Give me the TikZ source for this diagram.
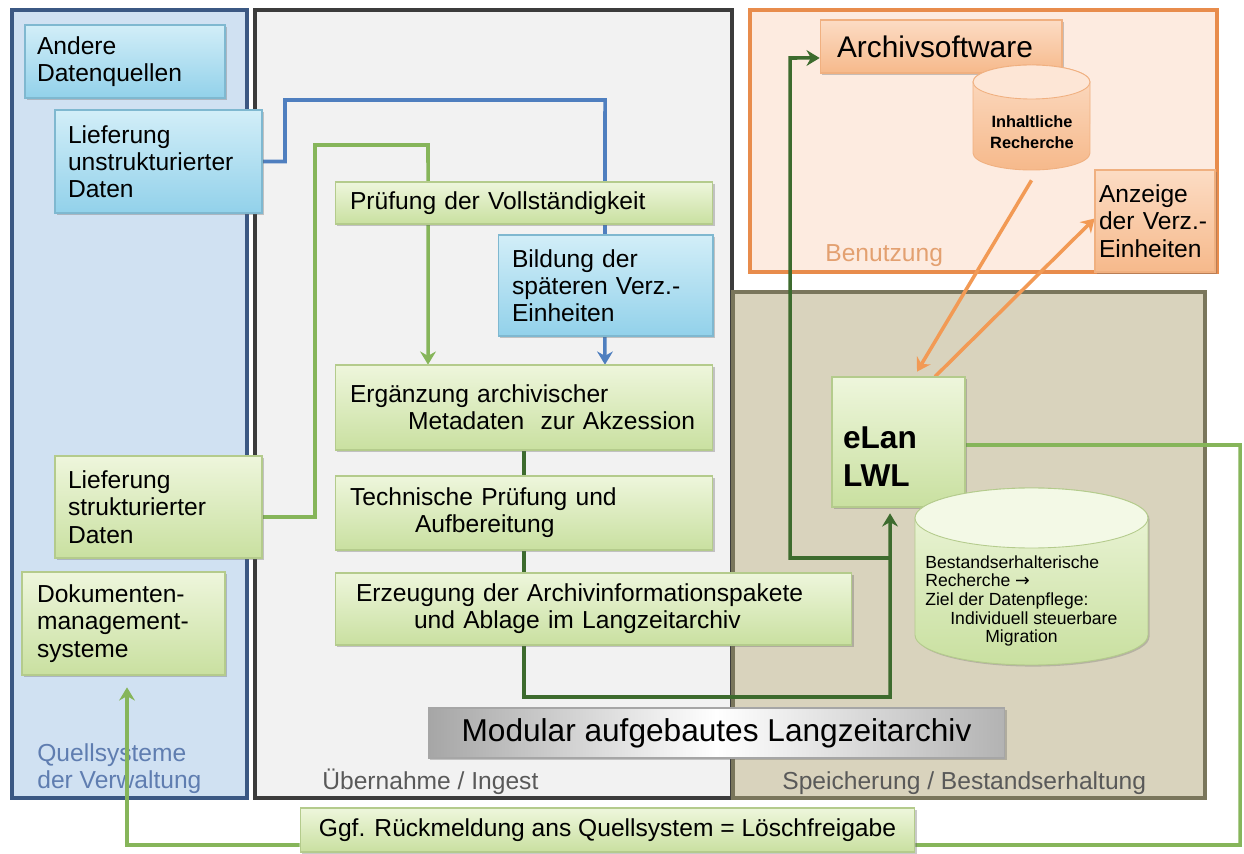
\documentclass[tikz,border=0pt]{standalone}
\usepackage{fontspec}
\setmainfont{Liberation Sans}
\newfontfamily\dejavu{DejaVu Sans}
\usetikzlibrary{arrows.meta,shadows}
\definecolor{qfill}{HTML}{D0E1F2}
\definecolor{qdraw}{HTML}{3B5883}
\definecolor{ifill}{HTML}{F2F2F2}
\definecolor{idraw}{HTML}{3C3C3C}
\definecolor{bfill}{HTML}{FDEBE0}
\definecolor{bdraw}{HTML}{E88C4C}
\definecolor{sfill}{HTML}{D9D3BD}
\definecolor{sdraw}{HTML}{7A765C}
\definecolor{gtop}{HTML}{EEF6DC}
\definecolor{gbot}{HTML}{C9E0A0}
\definecolor{gborder}{HTML}{B4CB8C}
\definecolor{btop}{HTML}{D2EEF8}
\definecolor{bbot}{HTML}{92D1EA}
\definecolor{bborder}{HTML}{7FB8D0}
\definecolor{otop}{HTML}{FCDCC4}
\definecolor{obot}{HTML}{F6B98B}
\definecolor{oborder}{HTML}{F0B080}
\definecolor{lblue}{HTML}{4F7FBF}
\definecolor{lgreen}{HTML}{86B55A}
\definecolor{dgreen}{HTML}{3D6B2E}
\definecolor{lorange}{HTML}{F29A55}
\definecolor{qlab}{HTML}{5F7DB0}
\definecolor{blab}{HTML}{E3A070}
\begin{document}
\begin{tikzpicture}[x=0.02cm,y=-0.02cm,
  font=\fontsize{14}{15.5}\selectfont,
  panel/.style={line width=1.8pt},
  boxbase/.style={line width=0.6pt, align=left, inner ysep=2pt,
    drop shadow={shadow xshift=0.9pt, shadow yshift=-0.9pt, opacity=0.35, fill=black!60}},
  gbox/.style={boxbase, draw=gborder, top color=gtop, bottom color=gbot},
  bbox/.style={boxbase, draw=bborder, top color=btop, bottom color=bbot},
  obox/.style={boxbase, draw=oborder, top color=otop, bottom color=obot},
  conn/.style={line width=2pt},
  tip/.style={-{Stealth[length=7.5pt,width=9pt,inset=2.5pt]}},
  plabel/.style={text=black!65, inner sep=0pt}
]
\fill[white] (0,0) rectangle (1244,854);
\useasboundingbox (0,0) rectangle (1244,854);

% panels
\draw[panel, draw=qdraw, fill=qfill] (12,10) rectangle (247,798);
\draw[panel, draw=idraw, fill=ifill] (255,10) rectangle (732,798);
\draw[panel, draw=bdraw, fill=bfill] (750,10) rectangle (1217,272);
\draw[panel, draw=sdraw, fill=sfill] (733,292) rectangle (1205,798);

% panel labels
\node[text=qlab, inner sep=0pt, align=left, anchor=west] (qlabel) at (37,769) {Quellsysteme\\der Verwaltung};
\node[plabel, anchor=base west] (ilabel) at (322,789) {Übernahme / Ingest};
\node[plabel, anchor=base west] (slabel) at (782,789) {Speicherung / Bestandserhaltung};
\node[text=blab, inner sep=0pt, anchor=base west] (blabel) at (825,262) {Benutzung};

% invisible anchors
\node[minimum width=2.34cm, minimum height=2.1cm, inner sep=0pt] (inhalt) at (1031.5,117.5) {};
\coordinate (j1) at (890,558);
\path
  node[minimum width=4.14cm, minimum height=2.06cm] (lunstr) at (158.5,161.5) {}
  node[minimum width=7.56cm, minimum height=1.7cm] (ergaenz) at (524,407.5) {}
  node[minimum width=4.14cm, minimum height=2.04cm] (lstr) at (158.5,507) {}
  node[minimum width=2.66cm, minimum height=2.6cm] (elan) at (898.5,442) {}
  node[minimum width=4.84cm, minimum height=1.06cm] (archsw) at (941,46.5) {}
  node[minimum width=2.4cm, minimum height=2.04cm] (anzeige) at (1155,221) {}
  node[minimum width=12.3cm, minimum height=0.88cm] (ggf) at (607.5,830) {}
  node[minimum width=4.06cm, minimum height=2.06cm] (dms) at (123.5,623.5) {};

% connectors
\draw[conn, lblue, tip] (lunstr.east) -- (285,161.5) -- (285,100) -- (605,100) -- ([xshift=1.62cm]ergaenz.north);
\draw[conn, lgreen, tip] ([yshift=-0.2cm]lstr.east) -- (315,517) -- (315,145) -- (428,145) -- ([xshift=-1.92cm]ergaenz.north);
\draw[conn, dgreen, tip] (ergaenz.south) -- (524,697) -- (890,697) -- ([xshift=-0.17cm, yshift=-0.12cm]elan.south);
\draw[conn, dgreen, tip] (j1) -- (790,558) -- (790,58) -- ([yshift=-0.23cm]archsw.west);
\draw[conn, lgreen] ([yshift=-0.06cm]elan.east) -- (1240,445) -- (1240,845) -- ([yshift=-0.3cm]ggf.east);
\draw[conn, lgreen, tip] ([yshift=-0.3cm]ggf.west) -- (127,845) -- ([xshift=0.07cm, yshift=-0.24cm]dms.south);
\draw[conn, lorange, tip] ([yshift=-0.2cm]inhalt.south) -- ([xshift=0.37cm, yshift=0.1cm]elan.north);
\draw[conn, lorange, tip] ([xshift=0.73cm]elan.north) -- ([yshift=0.05cm]anzeige.west);

% blue boxes
\node[bbox, minimum width=4cm, minimum height=1.46cm, text width=3.52cm] (andere) at (125,61.5) {Andere\\Datenquellen};
\node[bbox, minimum width=4.14cm, minimum height=2.06cm, text width=3.62cm] (lunstrbox) at (lunstr) {Lieferung\\unstrukturierter\\Daten};
\node[bbox, minimum width=4.3cm, minimum height=2.02cm, text width=3.74cm] (bildung) at (605.5,285.5) {Bildung der\\späteren Verz.-\\Einheiten};

% green boxes
\node[gbox, minimum width=7.56cm, minimum height=0.84cm, text width=6.96cm] (pruef) at (524,203) {Prüfung der Vollständigkeit};
\node[gbox, minimum width=7.56cm, minimum height=1.7cm, text width=6.96cm] (ergaenzbox) at (ergaenz) {Ergänzung archivischer\\\hspace*{1.16cm}Metadaten\ \ zur Akzession};
\node[gbox, minimum width=7.56cm, minimum height=1.48cm, text width=6.96cm] (techn) at (524,513) {Technische Prüfung und\\\hspace*{1.3cm}Aufbereitung};
\node[gbox, minimum width=10.34cm, minimum height=1.44cm, text width=9.5cm] (erzeug) at (593.5,609) {Erzeugung der Archivinformationspakete\\\hspace*{1.16cm}und Ablage im Langzeitarchiv};
\node[gbox, minimum width=4.14cm, minimum height=2.04cm, text width=3.62cm] (lstrbox) at (lstr) {Lieferung\\strukturierter\\Daten};
\node[gbox, minimum width=4.06cm, minimum height=2.06cm, text width=3.46cm] (dmsbox) at (dms) {Dokumenten-\\management-\\systeme};
\node[gbox, minimum width=12.3cm, minimum height=0.88cm, align=center] (ggfbox) at (ggf) {Ggf. Rückmeldung ans Quellsystem = Löschfreigabe};
\node[gbox, minimum width=2.66cm, minimum height=2.6cm, font=\bfseries\fontsize{18}{21.5}\selectfont] (elanbox) at (elan) {\raisebox{-0.3cm}[\height][\depth]{\parbox{2.22cm}{eLan\\LWL}}};

% gray title box
\node[boxbase, draw=black!35, left color=black!35, right color=black!30, middle color=white,
  minimum width=11.54cm, minimum height=1cm, font=\fontsize{18}{21}\selectfont] (modular) at (716.5,733) {Modular\ aufgebautes\ Langzeitarchiv};

% orange boxes
\node[obox, minimum width=4.84cm, minimum height=1.06cm, text width=4.16cm, font=\fontsize{17}{20}\selectfont] (archswbox) at (archsw) {Archivsoftware};
\node[obox, minimum width=2.4cm, minimum height=2.04cm, inner xsep=0.08cm, text width=2.24cm] (anzeigebox) at (anzeige) {Anzeige\\der Verz.-\\Einheiten};

% small orange cylinder
\path[top color=otop, bottom color=obot, draw=oborder, line width=0.5pt]
  (973,82) -- (973,153) arc[start angle=180, end angle=360, x radius=1.17cm, y radius=0.34cm]
  -- (1090,82) arc[start angle=0, end angle=180, x radius=1.17cm, y radius=0.34cm] -- cycle;
\path[fill=otop!70!white, draw=oborder, line width=0.5pt] (1031.5,82) ellipse[x radius=1.17cm, y radius=0.34cm];
\node[font=\bfseries\fontsize{9.3}{12}\selectfont, align=center, inner sep=0pt] (inhalttxt) at (1032,132) {Inhaltliche\\Recherche};

% big green cylinder
\path[top color=gtop, bottom color=gbot, draw=gborder, line width=0.5pt,
  drop shadow={shadow xshift=0.9pt, shadow yshift=-0.9pt, opacity=0.3, fill=black!60}]
  (915,518) -- (915,635) arc[start angle=180, end angle=360, x radius=2.33cm, y radius=0.6cm]
  -- (1148,518) arc[start angle=0, end angle=180, x radius=2.33cm, y radius=0.6cm] -- cycle;
\path[fill=gtop!70!white, draw=gborder, line width=0.5pt] (1031.5,518) ellipse[x radius=2.33cm, y radius=0.6cm];
\node[minimum width=4.66cm, minimum height=3.54cm, inner sep=0pt] (bestand) at (1031.5,576.5) {};
\node[font=\fontsize{10}{10.6}\selectfont, align=left, inner sep=0pt, anchor=west] (bestandtxt) at (925,601)
  {Bestandserhalterische\\Recherche {\dejavu →}\\Ziel der Datenpflege:\\\hspace*{0.5cm}Individuell steuerbare\\\hspace*{1.2cm}Migration};
\end{tikzpicture}
\end{document}
